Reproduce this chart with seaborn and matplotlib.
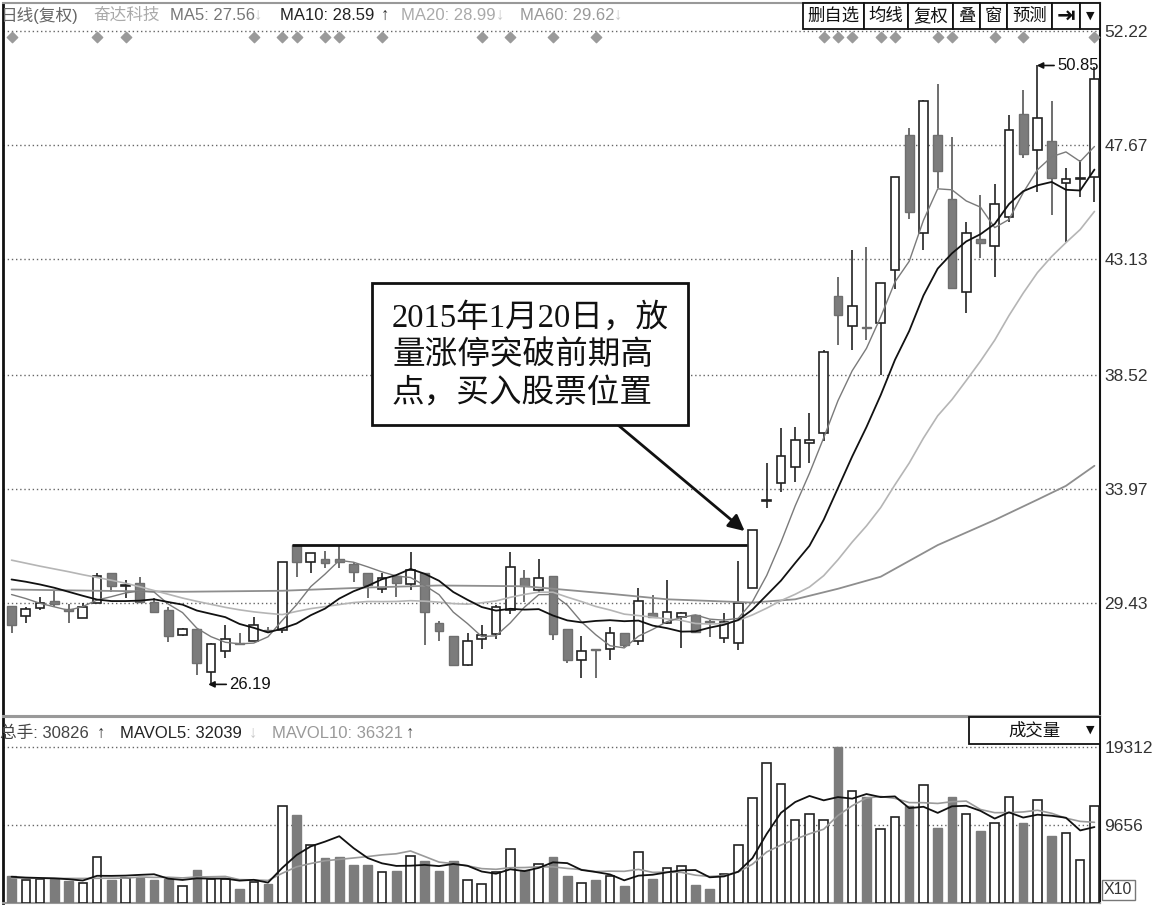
import numpy as np
import pandas as pd
import seaborn as sns
import matplotlib.pyplot as plt
from matplotlib.patches import Rectangle

sns.set_theme(style='white')
plt.rcParams['font.family'] = ['Liberation Sans', 'Noto Sans CJK SC', 'DejaVu Sans']

# daily candles, 77 trading days
opens = [29.31, 28.91, 29.25, 29.51, 29.19, 28.82, 29.45, 30.61, 30.10, 30.24,
         29.49, 29.15, 28.14, 28.38, 26.70, 27.53, 27.85, 27.92, 28.35, 28.36,
         31.74, 31.08, 31.17, 31.17, 30.99, 30.64, 29.98, 30.51, 30.19, 30.61,
         28.62, 28.12, 26.96, 27.98, 28.20, 29.15, 30.41, 29.95, 30.52, 28.38,
         27.16, 27.58, 27.60, 28.25, 27.93, 29.04, 28.62, 28.88, 28.95, 28.70,
         28.02, 27.82, 30.05, 33.48, 34.20, 34.86, 35.79, 36.20, 41.66, 40.46,
         40.44, 40.57, 42.69, 48.10, 44.18, 48.10, 45.52, 41.83, 43.92, 43.66,
         44.82, 48.91, 47.48, 47.83, 46.15, 46.34, 46.41]
highs = [29.31, 29.29, 29.68, 29.91, 29.39, 29.42, 30.64, 30.61, 30.35, 30.48,
         29.62, 29.29, 28.45, 28.38, 27.85, 28.56, 28.22, 28.86, 28.49, 31.05,
         31.74, 31.44, 31.52, 31.74, 31.08, 30.64, 30.61, 30.51, 31.45, 30.61,
         28.73, 28.12, 28.22, 28.56, 29.35, 31.45, 30.75, 31.17, 30.52, 28.38,
         28.12, 27.58, 28.46, 28.25, 30.02, 29.75, 30.35, 29.08, 28.95, 28.75,
         29.04, 31.12, 32.36, 35.00, 36.40, 36.45, 37.00, 39.50, 42.43, 43.49,
         43.62, 42.19, 46.39, 48.34, 49.47, 50.13, 48.01, 44.62, 45.68, 46.11,
         48.87, 49.89, 50.85, 49.44, 46.75, 47.08, 50.80]
lows = [28.22, 28.65, 29.15, 29.26, 28.65, 28.82, 29.42, 29.88, 29.62, 29.49,
        29.02, 27.89, 28.11, 26.56, 26.19, 27.23, 27.78, 27.90, 28.22, 28.22,
        30.48, 30.61, 30.81, 30.81, 30.28, 29.62, 29.82, 29.68, 29.95, 27.76,
        27.93, 26.92, 26.94, 27.60, 27.98, 28.99, 29.49, 29.82, 27.96, 27.05,
        26.43, 26.43, 27.16, 27.67, 27.76, 28.88, 28.59, 27.62, 28.25, 28.09,
        27.85, 27.56, 30.05, 33.20, 33.87, 34.26, 35.00, 35.90, 39.71, 39.51,
        39.91, 38.51, 41.96, 44.75, 43.49, 45.95, 41.99, 40.97, 43.16, 42.43,
        44.62, 47.18, 45.82, 44.89, 43.82, 45.62, 45.42]
closes = [28.55, 29.21, 29.45, 29.39, 29.11, 29.29, 30.52, 30.11, 30.14, 29.49,
          29.09, 28.12, 28.41, 27.05, 27.78, 27.98, 27.81, 28.56, 28.30, 31.05,
          31.08, 31.44, 31.04, 31.05, 30.68, 30.15, 30.44, 30.22, 30.75, 29.09,
          28.33, 26.96, 27.93, 28.16, 29.26, 30.88, 30.11, 30.41, 28.20, 27.16,
          27.53, 27.54, 28.22, 27.76, 29.51, 28.88, 29.08, 29.04, 28.29, 28.66,
          28.68, 29.44, 32.36, 33.52, 35.29, 35.92, 35.92, 39.44, 40.90, 41.26,
          40.38, 42.19, 46.39, 45.02, 49.43, 46.65, 41.99, 44.18, 43.78, 45.35,
          48.27, 47.34, 48.74, 46.37, 46.31, 46.36, 50.33]
volumes = [3358, 2813, 2939, 2939, 2687, 2519, 5751, 2897, 3107, 3149,
           2897, 3023, 2099, 4114, 2939, 2939, 1763, 2603, 2393, 12048,
           10873, 7137, 5541, 5751, 4702, 4702, 3862, 3946, 5877, 5206,
           3946, 5206, 2813, 2309, 3862, 6675, 4072, 4828, 5751, 3358,
           2450, 2813, 3316, 2099, 6255, 3023, 4282, 4576, 2267, 1763,
           3568, 7221, 12972, 17296, 14777, 10243, 10999, 10243, 19311, 13811,
           13098, 9110, 10663, 12048, 14651, 9320, 13182, 10999, 8900, 9865,
           13182, 9949, 12762, 8270, 8606, 5331, 12048]

# moving-average values at the left edge, where the history is off screen
ma5_head = [29.77, 29.61, 29.42, 29.28]
ma10_head = [30.37, 30.28, 30.17, 30.04, 29.88, 29.72, 29.57, 29.51, 29.51]
ma20_head = [31.14, 31.02, 30.90, 30.79, 30.68, 30.56, 30.45, 30.34, 30.22, 30.08,
             29.93, 29.78, 29.63, 29.50, 29.38, 29.26, 29.16, 29.08, 29.02]
ma60_days = [0, 6, 12, 19, 25, 30, 36, 42, 46, 52, 55, 58, 61, 65, 69, 72, 74, 76]
ma60_vals = [29.97, 29.92, 29.88, 29.92, 30.05, 30.13, 30.10, 29.80, 29.58, 29.45,
             29.58, 30.00, 30.48, 31.74, 32.74, 33.55, 34.10, 34.90]
mavol5_head = [3250, 3150, 3100, 3050]
mavol10_head = [3100, 3080, 3060, 3050, 3040, 3040, 3060, 3070, 3080]

price_ticks = [52.22, 47.67, 43.13, 38.52, 33.97, 29.43]
vol_ticks = [19312, 9656]
flag_days = [0, 6, 8, 17, 19, 20, 22, 23, 26, 33, 35, 38, 41,
             57, 58, 59, 61, 62, 65, 66, 69, 71, 76]
breakout_day = 52
prev_high_day = 20

df = pd.DataFrame({'open': opens, 'high': highs, 'low': lows,
                   'close': closes, 'vol': volumes})
df['day'] = np.arange(len(df))
df['up'] = df['close'] >= df['open']

ma5 = df['close'].rolling(5).mean()
ma5.iloc[:len(ma5_head)] = ma5_head
ma10 = df['close'].rolling(10).mean()
ma10.iloc[:len(ma10_head)] = ma10_head
ma20 = df['close'].rolling(20).mean()
ma20.iloc[:len(ma20_head)] = ma20_head
mv5 = df['vol'].rolling(5).mean()
mv5.iloc[:len(mavol5_head)] = mavol5_head
mv10 = df['vol'].rolling(10).mean()
mv10.iloc[:len(mavol10_head)] = mavol10_head

W, H = 1158, 906
fig = plt.figure(figsize=(W / 100, H / 100), dpi=100)
ax = fig.add_axes([3 / W, (H - 716) / H, 1097 / W, 713 / H])
axv = fig.add_axes([3 / W, (H - 903) / H, 1097 / W, 186 / H])

up = df[df['up']]
dn = df[~df['up']]

# candles
ax.vlines(up['day'], up['low'], up['high'], color='#222', lw=1.2, zorder=2)
ax.vlines(dn['day'], dn['low'], dn['high'], color='#555', lw=1.2, zorder=2)
ax.bar(up['day'], np.maximum(up['close'] - up['open'], 0.04), bottom=up['open'],
       width=0.62, color='white', edgecolor='#222', lw=1.2, zorder=3)
ax.bar(dn['day'], np.maximum(dn['open'] - dn['close'], 0.04), bottom=dn['close'],
       width=0.62, color='#7c7c7c', edgecolor='#6e6e6e', lw=1, zorder=3)

# moving averages
sns.lineplot(x=ma60_days, y=ma60_vals, ax=ax, color='#8e8e8e', lw=1.3, zorder=4)
sns.lineplot(x=df['day'], y=ma20, ax=ax, color='#b5b5b5', lw=1.2, zorder=4)
sns.lineplot(x=df['day'], y=ma5, ax=ax, color='#7a7a7a', lw=1.0, zorder=4)
sns.lineplot(x=df['day'], y=ma10, ax=ax, color='#111', lw=1.3, zorder=4)

# previous high line
ax.hlines(highs[prev_high_day], prev_high_day - 0.3, breakout_day - 0.4,
          color='#111', lw=2, zorder=5)

ax.scatter(flag_days, [0.952] * len(flag_days), marker='D', s=28, color='#9a9a9a',
           transform=ax.get_xaxis_transform(), zorder=5, clip_on=False)

ax.annotate('26.19', xy=(13.8, 26.19), xytext=(15.3, 26.19), fontsize=12, va='center',
            color='#111', arrowprops=dict(arrowstyle='-|>', color='#111', lw=1.2,
                                          shrinkA=0, shrinkB=0, mutation_scale=9))
ax.annotate('50.85', xy=(71.95, 50.85), xytext=(73.4, 50.85), fontsize=12, va='center',
            color='#111', annotation_clip=False,
            arrowprops=dict(arrowstyle='-|>', color='#111', lw=1.2,
                            shrinkA=0, shrinkB=0, mutation_scale=9))

ax.set_xlim(-0.6, 76.39)
ax.set_ylim(24.93, 53.34)
ax.set_yticks(price_ticks)
ax.set_yticklabels([f'{t:.2f}' for t in price_ticks])
ax.yaxis.tick_right()
ax.tick_params(axis='y', length=0, pad=3, labelsize=12.5, labelcolor='#333')
ax.set_xticks([])
ax.set_xlabel('')
ax.set_ylabel('')
ax.grid(axis='y', ls=(0, (1, 2)), color='#666', lw=1)
ax.set_axisbelow(True)

# volume
axv.bar(up['day'], up['vol'], width=0.6, color='white', edgecolor='#222', lw=1.2, zorder=3)
axv.bar(dn['day'], dn['vol'], width=0.6, color='#7c7c7c', edgecolor='#7c7c7c', lw=1, zorder=3)
sns.lineplot(x=df['day'], y=mv10, ax=axv, color='#9a9a9a', lw=1.2, zorder=4)
sns.lineplot(x=df['day'], y=mv5, ax=axv, color='#111', lw=1.3, zorder=4)
axv.set_xlim(-0.6, 76.39)
axv.set_ylim(0, 23030)
axv.set_yticks(vol_ticks)
axv.set_yticklabels([str(t) for t in vol_ticks])
axv.yaxis.tick_right()
axv.tick_params(axis='y', length=0, pad=3, labelsize=12.5, labelcolor='#333')
axv.set_xticks([])
axv.set_xlabel('')
axv.set_ylabel('')
axv.grid(axis='y', ls=(0, (1, 2)), color='#666', lw=1)
axv.set_axisbelow(True)

for a in (ax, axv):
    a.spines['left'].set_color('#111')
    a.spines['left'].set_linewidth(2)
    a.spines['right'].set_color('#111')
    a.spines['right'].set_linewidth(1.5)
    a.spines['top'].set_color('#999')
    a.spines['bottom'].set_color('#999')
    a.spines['top'].set_linewidth(1.5)
    a.spines['bottom'].set_linewidth(1.5)

# overlay in pixel coordinates for the terminal chrome and the note
ov = fig.add_axes([0, 0, 1, 1])
ov.set_xlim(0, W)
ov.set_ylim(H, 0)
ov.axis('off')
ov.set_zorder(10)

hdr = [('日线(复权)', 0, '#666'), ('奋达科技', 93, '#aaa'),
       ('MA5: 27.56', 170, '#777'), ('↓', 254, '#c8c8c8'),
       ('MA10: 28.59', 280, '#222'), ('↑', 381, '#333'),
       ('MA20: 28.99', 401, '#aaa'), ('↓', 496, '#c8c8c8'),
       ('MA60: 29.62', 520, '#999'), ('↓', 614, '#c8c8c8')]
for s, x, c in hdr:
    ov.text(x, 15, s, fontsize=12, color=c, va='center', ha='left')

vhdr = [('总手: 30826', 0, '#444'), ('↑', 97, '#333'),
        ('MAVOL5: 32039', 120, '#222'), ('↓', 249, '#c8c8c8'),
        ('MAVOL10: 36321', 272, '#999'), ('↑', 406, '#444')]
for s, x, c in vhdr:
    ov.text(x, 733, s, fontsize=12, color=c, va='center', ha='left')

edges = [803, 864, 908, 953, 980, 1007, 1052, 1080, 1100]
buttons = ['删自选', '均线', '复权', '叠', '窗', '预测', '⇥', '▼']
for k, lab in enumerate(buttons):
    x0, x1 = edges[k], edges[k + 1]
    ov.add_patch(Rectangle((x0, 3), x1 - x0, 26, facecolor='white',
                           edgecolor='#111', lw=1.3))
    fs = 8 if lab == '▼' else (16 if lab == '⇥' else 12.5)
    fam = ['DejaVu Sans'] if lab in ('⇥', '▼') else ['Noto Sans CJK SC', 'DejaVu Sans']
    ov.text((x0 + x1) / 2, 16, lab, fontsize=fs, ha='center', va='center',
            color='#111', family=fam, fontweight='bold' if lab == '⇥' else 'normal')

ov.add_patch(Rectangle((969, 717), 131, 27, facecolor='white', edgecolor='#111', lw=1.3))
ov.text(1034, 731, '成交量', fontsize=12.5, ha='center', va='center', color='#111',
        family=['Noto Sans CJK SC', 'DejaVu Sans'])
ov.text(1090, 730, '▼', fontsize=8, ha='center', va='center', color='#111',
        family=['DejaVu Sans'])
ov.text(1104, 890, 'X10', fontsize=11.5, ha='left', va='center', color='#333',
        bbox=dict(boxstyle='square,pad=0.15', facecolor='white', edgecolor='#777', lw=1))

# note box with arrow to the breakout candle
ov.add_patch(Rectangle((372, 283), 316, 142, facecolor='white', edgecolor='#111', lw=2))
note = ['2015年1月20日，放', '量涨停突破前期高', '点，买入股票位置']
for k, line in enumerate(note):
    ov.text(392, 318 + 38 * k, line, fontsize=23.5, ha='left', va='center', color='#111',
            family=['Liberation Serif', 'Noto Sans CJK SC'])
ax.annotate('', xy=(breakout_day - 0.55, 32.3), xycoords='data',
            xytext=(618, 425), textcoords=ov.transData, annotation_clip=False,
            arrowprops=dict(arrowstyle='-|>', color='#111', lw=2, mutation_scale=24,
                            shrinkA=0, shrinkB=0), zorder=6)

fig.savefig('out.png', dpi=100)
